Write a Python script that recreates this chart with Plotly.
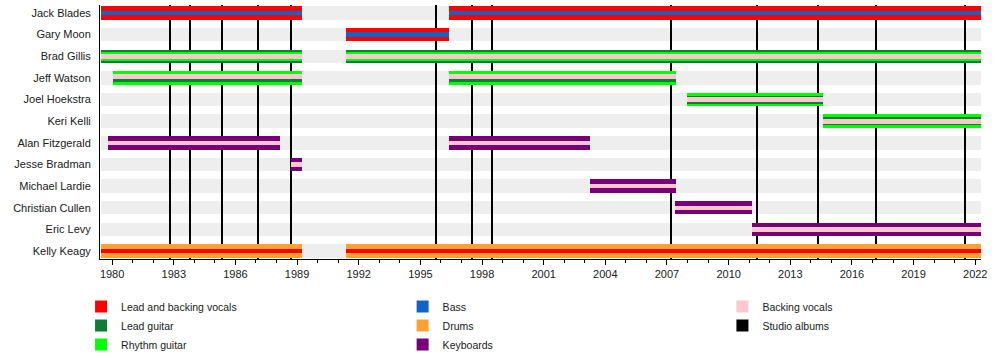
import plotly.graph_objects as go

# ---------------- data ----------------
members = ["Jack Blades", "Gary Moon", "Brad Gillis", "Jeff Watson", "Joel Hoekstra",
           "Keri Kelli", "Alan Fitzgerald", "Jesse Bradman", "Michael Lardie",
           "Christian Cullen", "Eric Levy", "Kelly Keagy"]

start_year = 1979.46
end_year = 2022.28

jack_blades = [(1979.46, 1989.22), (1996.37, 2022.28)]
gary_moon = [(1991.39, 1996.40)]
brad_gillis = [(1979.46, 1989.22), (1991.39, 2022.28)]
jeff_watson = [(1980.06, 1989.22), (1996.37, 2007.44)]
joel_hoekstra = [(2007.98, 2014.58)]
keri_kelli = [(2014.60, 2022.28)]
alan_fitzgerald = [(1979.80, 1988.18), (1996.37, 2003.26)]
jesse_bradman = [(1988.70, 1989.22)]
michael_lardie = [(2003.26, 2007.44)]
christian_cullen = [(2007.40, 2011.16)]
eric_levy = [(2011.16, 2022.28)]
kelly_keagy = [(1979.46, 1989.22), (1991.39, 2022.28)]

studio_albums = [1982.82, 1983.80, 1985.35, 1987.10, 1988.71, 1995.77, 1997.52,
                 1998.49, 2007.20, 2011.39, 2014.36, 2017.18, 2021.50]

tick_years = list(range(1980, 2023, 3))
minor_years = list(range(1980, 2023, 1))

legend_col1 = ["Lead and backing vocals", "Lead guitar", "Rhythm guitar"]
legend_col2 = ["Bass", "Drums", "Keyboards"]
legend_col3 = ["Backing vocals", "Studio albums"]

periods = [jack_blades, gary_moon, brad_gillis, jeff_watson, joel_hoekstra, keri_kelli,
           alan_fitzgerald, jesse_bradman, michael_lardie, christian_cullen, eric_levy,
           kelly_keagy]

# ---------------- style ----------------
colors = {
    "Lead and backing vocals": "#ff0000",
    "Bass": "#1163c6",
    "Backing vocals": "#ffc6cf",
    "Lead guitar": "#0b7d34",
    "Drums": "#ffa030",
    "Studio albums": "#000000",
    "Rhythm guitar": "#00ff00",
    "Keyboards": "#770077",
}


def legend_of(role):
    if role in legend_col1:
        return "legend", legend_col1.index(role) + 1
    if role in legend_col2:
        return "legend2", legend_col2.index(role) + 1
    return "legend3", legend_col3.index(role) + 1


FULL = 0.62
layers = [
    # (member, role, thickness, offset)  -- in drawing order
    ("Jack Blades", "Lead and backing vocals", FULL, 0),
    ("Gary Moon", "Lead and backing vocals", FULL, 0),
    ("Brad Gillis", "Lead guitar", FULL, 0),
    ("Jeff Watson", "Rhythm guitar", FULL, 0),
    ("Joel Hoekstra", "Rhythm guitar", FULL, 0),
    ("Keri Kelli", "Rhythm guitar", FULL, 0),
    ("Alan Fitzgerald", "Keyboards", FULL, 0),
    ("Jesse Bradman", "Keyboards", FULL, 0),
    ("Michael Lardie", "Keyboards", FULL, 0),
    ("Christian Cullen", "Keyboards", FULL, 0),
    ("Eric Levy", "Keyboards", FULL, 0),
    ("Kelly Keagy", "Drums", FULL, 0),
    ("Jack Blades", "Bass", 0.23, 0),
    ("Gary Moon", "Bass", 0.23, 0),
    ("Brad Gillis", "Rhythm guitar", 0.42, 0),
    ("Joel Hoekstra", "Lead guitar", 0.37, 0),
    ("Keri Kelli", "Lead guitar", 0.37, 0),
    ("Jeff Watson", "Lead guitar", 0.14, 0.12),
    ("Kelly Keagy", "Lead and backing vocals", 0.22, 0),
    ("Brad Gillis", "Backing vocals", 0.23, 0),
    ("Jeff Watson", "Backing vocals", 0.23, -0.065),
    ("Joel Hoekstra", "Backing vocals", 0.23, 0),
    ("Keri Kelli", "Backing vocals", 0.23, 0),
    ("Alan Fitzgerald", "Backing vocals", 0.2, 0),
    ("Jesse Bradman", "Backing vocals", 0.2, 0),
    ("Michael Lardie", "Backing vocals", 0.2, 0),
    ("Christian Cullen", "Backing vocals", 0.2, 0),
    ("Eric Levy", "Backing vocals", 0.2, 0),
]

fig = go.Figure()
n = len(members)
y_lo, y_hi = -0.37, n - 1 + 0.37
x_lo = 1979.41

# grey row backgrounds
fig.add_trace(go.Bar(
    orientation="h", y=list(range(n)), base=[start_year] * n,
    x=[end_year - start_year] * n, width=FULL,
    marker=dict(color="#eeeeee", line=dict(width=0)),
    showlegend=False, hoverinfo="skip"))

# studio album lines
lg, rank = legend_of("Studio albums")
fig.add_trace(go.Bar(
    orientation="v", x=studio_albums, base=[y_lo] * len(studio_albums),
    y=[y_hi - y_lo] * len(studio_albums), width=0.1,
    marker=dict(color=colors["Studio albums"], line=dict(width=0)),
    name="Studio albums", legend=lg, legendrank=rank,
    legendgroup="Studio albums", showlegend=True))

shown = set()
for member, role, thick, off in layers:
    i = members.index(member)
    segs = periods[i]
    show = role not in shown
    shown.add(role)
    lg, rank = legend_of(role)
    fig.add_trace(go.Bar(
        orientation="h",
        y=[i + off] * len(segs),
        base=[s for s, e in segs],
        x=[e - s for s, e in segs],
        width=thick,
        marker=dict(color=colors[role], line=dict(width=0)),
        name=role, legendgroup=role, showlegend=show,
        legend=lg, legendrank=rank))

leg_common = dict(orientation="v", xanchor="left", yanchor="top", y=-0.13,
                  font=dict(size=10.5), bgcolor="rgba(0,0,0,0)", borderwidth=0,
                  tracegroupgap=0)

fig.update_layout(
    width=1000, height=358,
    margin=dict(l=100, r=19, t=5, b=99, autoexpand=False),
    barmode="overlay", bargap=0,
    plot_bgcolor="white", paper_bgcolor="white",
    font=dict(family="Liberation Sans, Arial, sans-serif", size=11, color="#202122"),
    xaxis=dict(range=[x_lo, end_year], showgrid=False, zeroline=False, automargin=False,
               showline=True, linecolor="black", linewidth=1,
               tickvals=tick_years, ticks="outside", ticklen=5, tickcolor="black",
               minor=dict(tickvals=minor_years, ticks="outside", ticklen=3,
                          tickcolor="black", showgrid=False),
               tickfont=dict(size=11)),
    yaxis=dict(range=[y_hi, y_lo], showgrid=False, zeroline=False, automargin=False,
               showline=True, linecolor="black", linewidth=1,
               tickvals=list(range(n)), ticktext=members, ticks="",
               ticklabelstandoff=6, tickfont=dict(size=11)),
    legend=dict(x=-0.0215, **leg_common),
    legend2=dict(x=0.3435, **leg_common),
    legend3=dict(x=0.7065, **leg_common),
    showlegend=True,
)

fig.write_html("out.html", config={"displayModeBar": False})

# remove the browser's default page margin so the figure sits at the top-left corner
with open("out.html", encoding="utf-8") as f:
    html = f.read()
html = html.replace("<body>", '<body style="margin:0;overflow:hidden;">', 1)
with open("out.html", "w", encoding="utf-8") as f:
    f.write(html)
